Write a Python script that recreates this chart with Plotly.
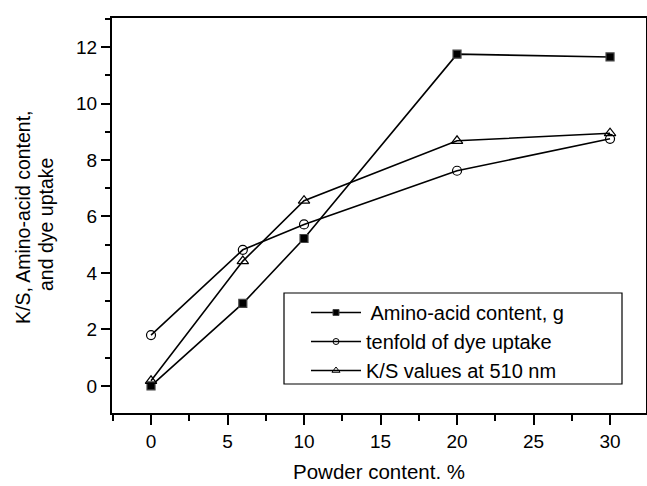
import plotly.graph_objects as go

powder = [0, 6, 10, 20, 30]
amino_acid = [0.0, 2.92, 5.22, 11.75, 11.65]
dye_uptake_x10 = [1.8, 4.82, 5.72, 7.62, 8.75]
ks_510 = [0.18, 4.42, 6.56, 8.68, 8.95]

names = [" Amino-acid content, g", "tenfold of dye uptake", "K/S values at 510 nm"]
symbols = ["square", "circle-open", "triangle-up-open"]
plot_sizes = [8, 9, 10]
legend_sizes = [6, 6, 7]
series = [amino_acid, dye_uptake_x10, ks_510]
x_title = "Powder content. %"
y_title_lines = ["K/S, Amino-acid content,", "and dye uptake"]

FONT = "Arial, Liberation Sans, sans-serif"

fig = go.Figure()
for name, ys, sym, ps in zip(names, series, symbols, plot_sizes):
    fig.add_trace(go.Scatter(x=powder, y=ys, mode="lines+markers", name=name,
                             showlegend=False,
                             line=dict(color="black", width=1.6),
                             marker=dict(symbol=sym, size=ps, color="black", line=dict(width=1.2))))
# legend entries (smaller markers as in the original legend)
for name, sym, ls in zip(names, symbols, legend_sizes):
    fig.add_trace(go.Scatter(x=[None], y=[None], mode="lines+markers", name=name,
                             line=dict(color="black", width=1.6),
                             marker=dict(symbol=sym, size=ls, color="black", line=dict(width=1))))

# legend frame
fig.add_shape(type="rect", xref="paper", yref="paper",
              x0=(284 - 112) / 534, x1=(622 - 112) / 534,
              y0=(413 - 384) / 395, y1=(413 - 293) / 395,
              line=dict(color="black", width=1.2), fillcolor="white", layer="above")

# axis titles
fig.add_annotation(text=x_title, xref="paper", yref="paper", x=0.5, y=(413 - 472) / 395,
                   xanchor="center", yanchor="middle", showarrow=False,
                   font=dict(size=20.5, family=FONT, color="black"))
for line_text, px, py in zip(y_title_lines, [23, 46], [217, 225]):
    fig.add_annotation(text=line_text, xref="paper", yref="paper",
                       x=(px - 112) / 534, y=(413 - py) / 395,
                       xanchor="center", yanchor="middle", showarrow=False, textangle=-90,
                       font=dict(size=19.5, family=FONT, color="black"))

fig.update_layout(
    width=647, height=486,
    margin=dict(l=112, r=1, t=18, b=73),
    paper_bgcolor="white", plot_bgcolor="white",
    font=dict(family=FONT, color="black", size=19),
    showlegend=True,
    legend=dict(x=(306 - 112) / 534, y=(413 - 293) / 395, xanchor="left", yanchor="top",
                borderwidth=0, bgcolor="rgba(0,0,0,0)",
                font=dict(size=20, family=FONT), itemwidth=50,
                tracegroupgap=0),
    xaxis=dict(range=[-2.55, 32.35], tickmode="linear", tick0=0, dtick=5,
               ticks="outside", ticklen=10, tickwidth=1.5, tickcolor="black",
               showline=True, linecolor="black", linewidth=2, mirror=True,
               showgrid=False, zeroline=False, automargin=False,
               minor=dict(tickmode="linear", tick0=0, dtick=2.5, ticks="outside",
                          ticklen=6, tickwidth=1.5, tickcolor="black", showgrid=False),
               tickfont=dict(size=19)),
    yaxis=dict(range=[-0.96, 13.03], tickmode="linear", tick0=0, dtick=2,
               ticks="outside", ticklen=9, tickwidth=1.5, tickcolor="black",
               showline=True, linecolor="black", linewidth=2, mirror=True,
               showgrid=False, zeroline=False, automargin=False,
               minor=dict(tickmode="linear", tick0=1, dtick=2, ticks="outside",
                          ticklen=5, tickwidth=1.5, tickcolor="black", showgrid=False),
               tickfont=dict(size=19)),
)

fig.write_html("out.html")
